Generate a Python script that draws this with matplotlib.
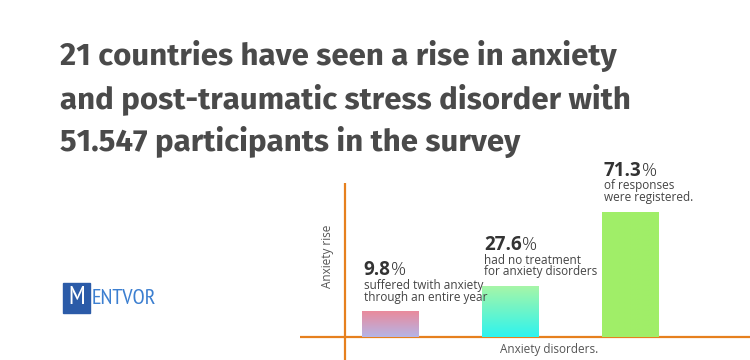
import matplotlib.pyplot as plt
import matplotlib.patches as mpatches
import numpy as np
from matplotlib.colors import LinearSegmentedColormap

# chart data
title_lines = [
    "21 countries have seen a rise in anxiety",
    "and post-traumatic stress disorder with",
    "51.547 participants in the survey",
]
percent_labels = ["9.8", "27.6", "71.3"]
descriptions = [
    ["suffered twith anxiety", "through an entire year"],
    ["had no treatment", "for anxiety disorders"],
    ["of responses", "were registered."],
]
# bar heights as drawn in the picture (not proportional to the labels)
bar_heights = [26, 51, 125]
x_label = "Anxiety disorders."
y_label = "Anxiety rise"

# colours
title_color = '#4a4a4a'
axis_color = '#e6801e'
text_color = '#555555'
bar_gradients = [
    ('#e98a9c', '#b6b4e6'),
    ('#a6f6a8', '#2ef3ee'),
    ('#a0ee68', '#a0ee68'),
]

W, H = 750, 360

def fx(px):
    return px / W

def fy(py):
    return 1 - py / H

fig = plt.figure(figsize=(7.5, 3.6), dpi=100)
fig.patch.set_facecolor('white')

# title
title_font = ['Fira Sans', 'Liberation Sans', 'DejaVu Sans']
for i, line in enumerate(title_lines):
    fig.text(fx(60), fy(65 + i * 43), line, fontsize=22.5, fontweight='bold',
             color=title_color, family=title_font, ha='left', va='baseline')

# logo
logo_font = ['PT Sans Narrow', 'Liberation Sans', 'DejaVu Sans']
fig.patches.append(mpatches.Rectangle((fx(63), fy(313)), fx(27), 30 / H,
                                      transform=fig.transFigure, color='#2b5ba8'))
fig.text(fx(76.5), fy(298), "M", fontsize=19, color='white', ha='center', va='center',
         family=logo_font)
fig.text(fx(92), fy(298.5), "ENTVOR", fontsize=16, color='#3c7fd0', ha='left', va='center',
         family=logo_font)

# chart area
ax = fig.add_axes([fx(300), 0, fx(750) - fx(300), (H - 183) / H])
ax.axis('off')

ax.axvline(-0.383, color=axis_color, lw=1.6)
ax.axhline(0, color=axis_color, lw=1.6)

x = np.arange(len(bar_heights))
bw = 0.475
bars = ax.bar(x, bar_heights, width=bw, color='none', edgecolor='none')

for bar, (top_c, bot_c) in zip(bars, bar_gradients):
    cmap = LinearSegmentedColormap.from_list('g', [bot_c, top_c])
    grad = np.linspace(0, 1, 100).reshape(-1, 1)
    bx, by = bar.get_x(), bar.get_y()
    im = ax.imshow(grad, extent=[bx, bx + bar.get_width(), by, by + bar.get_height()],
                   origin='lower', aspect='auto', cmap=cmap, zorder=2)
    im.set_clip_path(bar)

ax.set_xlim(-0.758, 2.992)
ax.set_ylim(-23, 154)

label_font = ['Open Sans', 'DejaVu Sans']
fig.canvas.draw()
renderer = fig.canvas.get_renderer()
for i, bar in enumerate(bars):
    left = bar.get_x()
    top = bar.get_height()
    num = ax.annotate(percent_labels[i], (left, top), xytext=(1, 41 * 0.72),
                      textcoords='offset points', fontsize=13.5, fontweight='bold',
                      color='#333333', family=label_font, ha='left', va='center')
    ext = num.get_window_extent(renderer)
    ax.annotate("%", (left, top), xytext=(1.5 + ext.width * 0.72, 41 * 0.72),
                textcoords='offset points', fontsize=13.5, fontweight='light', color='#333333',
                family=label_font, ha='left', va='center')
    for j, line in enumerate(descriptions[i]):
        ax.annotate(line, (left, top), xytext=(1, (26 - 12 * j) * 0.72),
                    textcoords='offset points', fontsize=8.5, color='#444444',
                    family=label_font, ha='left', va='center')

fig.text(fx(549), fy(349), x_label, fontsize=8.5, color=text_color,
         family=label_font, ha='center', va='center')
fig.text(fx(327), fy(256), y_label, fontsize=8.5, color=text_color, rotation=90,
         family=label_font, ha='center', va='center')

fig.savefig('out.png', dpi=100, facecolor='white')
